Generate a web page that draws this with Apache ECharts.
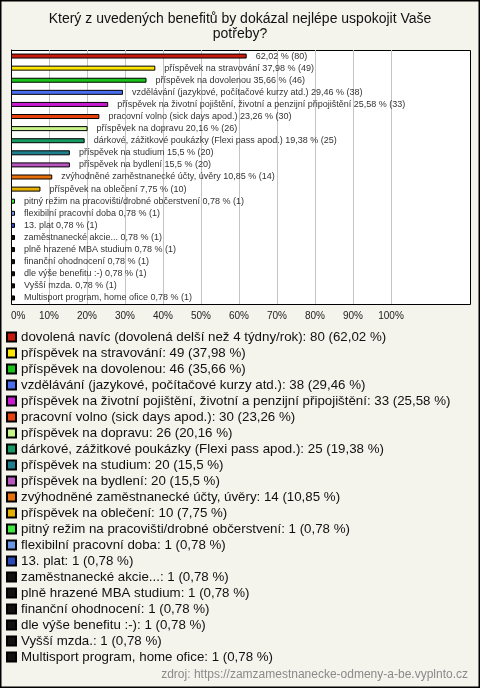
<!DOCTYPE html>
<html><head><meta charset="utf-8">
<script src="https://cdn.jsdelivr.net/npm/echarts@6/dist/echarts.min.js"></script>
<style>html,body{margin:0;padding:0;background:#f4f3ec;}#c{width:480px;height:688px;}</style>
</head><body><div id="c"></div>
<script>
const categories = [
  "dovolená navíc (dovolená delší než 4 týdny/rok)",
  "příspěvek na stravování",
  "příspěvek na dovolenou",
  "vzdělávání (jazykové, počítačové kurzy atd.)",
  "příspěvek na životní pojištění, životní a penzijní připojištění",
  "pracovní volno (sick days apod.)",
  "příspěvek na dopravu",
  "dárkové, zážitkové poukázky (Flexi pass apod.)",
  "příspěvek na studium",
  "příspěvek na bydlení",
  "zvýhodněné zaměstnanecké účty, úvěry",
  "příspěvek na oblečení",
  "pitný režim na pracovišti/drobné občerstvení",
  "flexibilní pracovní doba",
  "13. plat",
  "zaměstnanecké akcie...",
  "plně hrazené MBA studium",
  "finanční ohodnocení",
  "dle výše benefitu :-)",
  "Vyšší mzda.",
  "Multisport program, home ofice"
];
const counts = [80,49,46,38,33,30,26,25,20,20,14,10,1,1,1,1,1,1,1,1,1];
const percents = [62.02,37.98,35.66,29.46,25.58,23.26,20.16,19.38,15.5,15.5,10.85,7.75,0.78,0.78,0.78,0.78,0.78,0.78,0.78,0.78,0.78];
const colors = ["#c8190c","#ffe600","#1ac31a","#4a6ef0","#c81ad2","#e5420f","#c8f58a","#169a64","#1e7f8e","#b955c0","#e8700a","#e6b000","#3ee83e","#6896e6","#2a48b8","#111111","#111111","#111111","#111111","#111111","#111111"];
const xTicks = [0,10,20,30,40,50,60,70,80,90,100];

const fmt = v => String(v).replace('.', ',');

const series = categories.map((name, i) => ({
  name: name,
  type: 'bar',
  stack: 'all',
  barWidth: 5,
  barMinHeight: 4,
  data: categories.map((_, j) => j === i ? percents[i] : '-'),
  itemStyle: { color: colors[i], borderColor: '#000', borderWidth: 1 },
  label: {
    show: true, position: 'right', distance: 9,
    fontFamily: 'Liberation Sans', fontSize: 9, color: '#333',
    formatter: () => (i === 0 ? '' : name + ' ') + fmt(percents[i]) + ' % (' + counts[i] + ')'
  },
  emphasis: { disabled: true },
  animation: false
}));

const chart = echarts.init(document.getElementById('c'), null, { renderer: 'canvas' });
chart.setOption({
  backgroundColor: '#f4f3ec',
  animation: false,
  color: colors,
  title: [
    { text: 'Který z uvedených benefitů by dokázal nejlépe uspokojit Vaše\npotřeby?',
      left: 'center', top: 12, padding: 0,
      textStyle: { fontFamily: 'Liberation Sans', fontSize: 14, fontWeight: 'normal', color: '#111', lineHeight: 15, align: 'center' } },
    { text: 'zdroj: https://zamzamestnanecke-odmeny-a-be.vyplnto.cz',
      right: 12, top: 669, padding: 0,
      textStyle: { fontFamily: 'Liberation Sans', fontSize: 12, fontWeight: 'normal', color: '#8a8a8a' } }
  ],
  graphic: [
    { type: 'rect', z: -100, shape: { x: 11.5, y: 50.5, width: 459, height: 254 },
      style: { fill: '#ffffff', stroke: '#000', lineWidth: 1 } },
    { type: 'rect', z: 100, shape: { x: 0.5, y: 0.5, width: 479, height: 687 },
      style: { fill: 'none', stroke: '#000', lineWidth: 2 } }
  ],
  grid: { left: 11, top: 50, width: 380, height: 254, containLabel: false },
  xAxis: {
    type: 'value', min: 0, max: 100, interval: 10,
    axisLine: { show: false }, axisTick: { show: false },
    splitLine: { show: true, lineStyle: { color: '#c4c4c4', width: 1 } },
    axisLabel: { formatter: v => xTicks.includes(v) ? v + '%' : '', margin: 7, alignMinLabel: 'left',
      fontFamily: 'Liberation Sans', fontSize: 10, color: '#222' }
  },
  yAxis: {
    type: 'category', data: categories, inverse: true,
    axisLine: { show: true, lineStyle: { color: '#000', width: 1 } },
    axisTick: { show: false }, axisLabel: { show: false }, splitLine: { show: false }
  },
  legend: {
    orient: 'vertical', left: 6, top: 329, padding: 0,
    itemWidth: 9, itemHeight: 9, itemGap: 0,
    icon: 'rect', selectedMode: false,
    data: categories,
    textStyle: { fontFamily: 'Liberation Sans', fontSize: 13.3, color: '#111', lineHeight: 16 },
    formatter: name => { const i = categories.indexOf(name); return name + ': ' + counts[i] + ' (' + fmt(percents[i]) + ' %)'; }
  },
  series: series
});
</script></body></html>
